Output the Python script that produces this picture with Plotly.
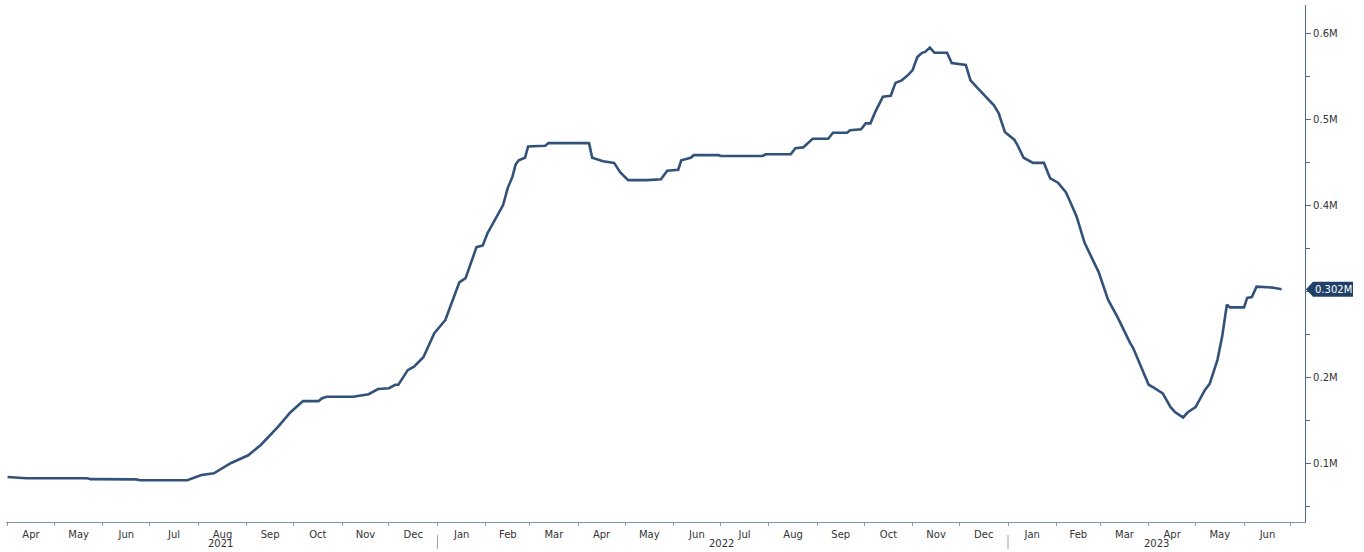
import datetime as dt
import plotly.graph_objects as go

# ---- data (values in millions) ----
dates = [
    "2021-04-01", "2021-04-13", "2021-05-22", "2021-05-24", "2021-06-22", "2021-06-25",
    "2021-07-25", "2021-08-03", "2021-08-11", "2021-08-22", "2021-09-02", "2021-09-10",
    "2021-09-21", "2021-09-29", "2021-10-07", "2021-10-17", "2021-10-19", "2021-10-22",
    "2021-11-08", "2021-11-18", "2021-11-24", "2021-12-01", "2021-12-05", "2021-12-07",
    "2021-12-13", "2021-12-17", "2021-12-23", "2021-12-30", "2022-01-05", "2022-01-06",
    "2022-01-15", "2022-01-19", "2022-01-26", "2022-01-30", "2022-02-02", "2022-02-05",
    "2022-02-08", "2022-02-12", "2022-02-15", "2022-02-18", "2022-02-20", "2022-02-22",
    "2022-02-26", "2022-02-28", "2022-03-11", "2022-03-13", "2022-04-08", "2022-04-10",
    "2022-04-17", "2022-04-24", "2022-04-28", "2022-05-03", "2022-05-15", "2022-05-24",
    "2022-05-28", "2022-06-04", "2022-06-06", "2022-06-12", "2022-06-14", "2022-06-30",
    "2022-07-01", "2022-07-28", "2022-07-30", "2022-08-15", "2022-08-18", "2022-08-23",
    "2022-08-29", "2022-09-08", "2022-09-11", "2022-09-20", "2022-09-22", "2022-09-29",
    "2022-10-02", "2022-10-05", "2022-10-08", "2022-10-13", "2022-10-18", "2022-10-21",
    "2022-10-25", "2022-10-29", "2022-11-01", "2022-11-04", "2022-11-07", "2022-11-09",
    "2022-11-12", "2022-11-15", "2022-11-23", "2022-11-26", "2022-12-05", "2022-12-08",
    "2022-12-12", "2022-12-18", "2022-12-23", "2022-12-26", "2022-12-30", "2023-01-05",
    "2023-01-07", "2023-01-11", "2023-01-17", "2023-01-24", "2023-01-28", "2023-02-02",
    "2023-02-07", "2023-02-10", "2023-02-14", "2023-02-19", "2023-02-24", "2023-02-28",
    "2023-03-06", "2023-03-12", "2023-03-20", "2023-03-22", "2023-04-01", "2023-04-04",
    "2023-04-10", "2023-04-15", "2023-04-18", "2023-04-23", "2023-04-26", "2023-05-01",
    "2023-05-07", "2023-05-10", "2023-05-15", "2023-05-18", "2023-05-21", "2023-05-23",
    "2023-06-01", "2023-06-03", "2023-06-06", "2023-06-09", "2023-06-19", "2023-06-25",
]
values = [
    0.0837, 0.0822, 0.0822, 0.0812, 0.0810, 0.0800,
    0.0800, 0.0860, 0.0880, 0.1000, 0.1090, 0.1210,
    0.1420, 0.1590, 0.1720, 0.1720, 0.1750, 0.1770,
    0.1770, 0.1800, 0.1860, 0.1870, 0.1910, 0.1910,
    0.2080, 0.2120, 0.2230, 0.2510, 0.2640, 0.2660,
    0.3100, 0.3150, 0.3510, 0.3530, 0.3670, 0.3770,
    0.3860, 0.4000, 0.4200, 0.4330, 0.4470, 0.4520,
    0.4550, 0.4680, 0.4690, 0.4720, 0.4720, 0.4550,
    0.4510, 0.4490, 0.4380, 0.4290, 0.4290, 0.4300,
    0.4400, 0.4410, 0.4520, 0.4550, 0.4580, 0.4580,
    0.4570, 0.4570, 0.4590, 0.4590, 0.4660, 0.4670,
    0.4770, 0.4770, 0.4840, 0.4840, 0.4870, 0.4880,
    0.4950, 0.4950, 0.5080, 0.5260, 0.5270, 0.5420,
    0.5450, 0.5510, 0.5570, 0.5720, 0.5770, 0.5780,
    0.5830, 0.5770, 0.5770, 0.5650, 0.5630, 0.5450,
    0.5370, 0.5260, 0.5160, 0.5070, 0.4850, 0.4760,
    0.4700, 0.4550, 0.4490, 0.4490, 0.4310, 0.4260,
    0.4150, 0.4030, 0.3860, 0.3560, 0.3360, 0.3220,
    0.2900, 0.2700, 0.2400, 0.2340, 0.1910, 0.1880,
    0.1810, 0.1650, 0.1590, 0.1530, 0.1590, 0.1650,
    0.1850, 0.1920, 0.2200, 0.2470, 0.2840, 0.2810,
    0.2810, 0.2920, 0.2930, 0.3050, 0.3040, 0.3020,
]
y_tick_vals = [0.1, 0.2, 0.3, 0.4, 0.5, 0.6]
y_tick_text = ["0.1M", "0.2M", "", "0.4M", "0.5M", "0.6M"]
years = [2021, 2022, 2023]
x_range = ["2021-03-31", "2023-07-10"]
y_range = [0.0314, 0.6326]

LINE = "#32527a"
TXT = "#333333"
FONT = "DejaVu Sans"

fig = go.Figure()
fig.add_trace(go.Scatter(x=dates, y=values, mode="lines",
                         line=dict(color=LINE, width=2.6), hoverinfo="skip"))

fig.update_layout(
    width=1364, height=552,
    margin=dict(l=6, r=59, t=5, b=30),
    paper_bgcolor="white", plot_bgcolor="white",
    showlegend=False,
    font=dict(family=FONT, size=10, color=TXT),
)
fig.update_xaxes(
    type="date", range=x_range,
    dtick="M1", tick0="2021-04-01", tickformat="%b", ticklabelmode="period",
    ticks="outside", ticklen=3, tickcolor="#8a9bb3",
    showline=True, linecolor="#7f94b0", linewidth=1.2,
    showgrid=False, zeroline=False,
    tickfont=dict(family=FONT, size=10, color=TXT),
)
fig.update_yaxes(
    side="right", range=y_range,
    tickvals=y_tick_vals, ticktext=y_tick_text,
    ticks="outside", ticklen=5, tickcolor="#4f6788",
    minor=dict(dtick=0.05, tick0=0.05, ticks="outside", ticklen=4, tickcolor="#4f6788"),
    showline=True, linecolor="#4f6788", linewidth=1.2,
    showgrid=False, zeroline=False,
    tickfont=dict(family=FONT, size=10, color=TXT),
)

# year labels and separators
x0 = dt.date.fromisoformat(x_range[0])
x1 = dt.date.fromisoformat(x_range[1])
for yr in years:
    a = max(dt.date(yr, 1, 1), x0)
    b = min(dt.date(yr, 12, 31), x1)
    mid = a + (b - a) / 2
    fig.add_annotation(x=mid.isoformat(), xref="x", y=-0.042, yref="paper",
                       text=str(yr), showarrow=False, yanchor="middle",
                       font=dict(family=FONT, size=10, color=TXT))
    if dt.date(yr, 1, 1) > x0:
        fig.add_shape(type="line", xref="x", yref="paper",
                      x0=f"{yr}-01-01", x1=f"{yr}-01-01", y0=-0.025, y1=-0.052,
                      line=dict(color="#a0a0a0", width=1))

# last value tag
last_val = values[-1]
fig.add_shape(type="path", xref="paper", yref="y",
              xsizemode="pixel", ysizemode="pixel",
              xanchor=1, yanchor=last_val,
              path="M 1,0 L 8,7.5 L 48,7.5 L 48,-7.5 L 8,-7.5 Z",
              fillcolor="#1f4168", line=dict(width=0))
fig.add_annotation(x=1, xref="paper", y=last_val, yref="y",
                   text=f"{last_val:.3f}M", showarrow=False,
                   xanchor="center", xshift=28,
                   font=dict(family=FONT, size=10, color="white"))

fig.write_html("out.html",
               config={"displayModeBar": False},
               post_script="document.body.style.margin='0';document.body.style.overflow='hidden';")
